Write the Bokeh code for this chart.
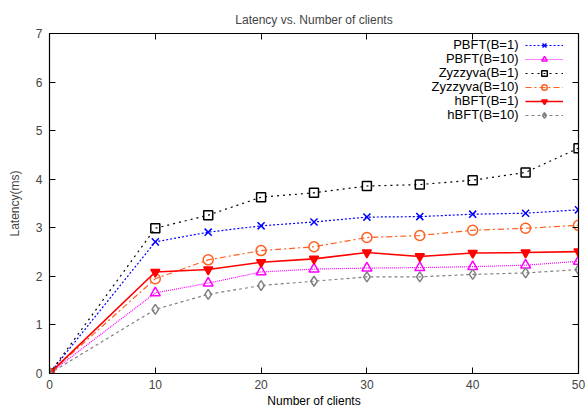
from bokeh.plotting import figure
from bokeh.models import LinearAxis, Legend, LegendItem, Label, FixedTicker, Title
from bokeh.embed import file_html
from bokeh.resources import INLINE

clients = [0, 10, 15, 20, 25, 30, 35, 40, 45, 50]
pbft_b1 = [0, 2.71, 2.91, 3.04, 3.12, 3.22, 3.23, 3.28, 3.30, 3.37]
pbft_b10 = [0, 1.66, 1.86, 2.09, 2.15, 2.17, 2.18, 2.20, 2.23, 2.31]
zyz_b1 = [0, 2.99, 3.26, 3.63, 3.72, 3.86, 3.89, 3.98, 4.14, 4.64]
zyz_b10 = [0, 1.95, 2.34, 2.53, 2.61, 2.80, 2.84, 2.95, 2.99, 3.05]
hbft_b1 = [0, 2.09, 2.14, 2.29, 2.36, 2.49, 2.41, 2.48, 2.49, 2.51]
hbft_b10 = [0, 1.32, 1.63, 1.81, 1.90, 1.99, 1.99, 2.04, 2.07, 2.14]
names = ["PBFT(B=1)", "PBFT(B=10)", "Zyzzyva(B=1)", "Zyzzyva(B=10)", "hBFT(B=1)", "hBFT(B=10)"]
x_ticks = [0, 10, 20, 30, 40, 50]
y_ticks = [0, 1, 2, 3, 4, 5, 6, 7]
x_title = "Number of clients"
y_title = "Latency(ms)"

series = [pbft_b1, pbft_b10, zyz_b1, zyz_b10, hbft_b1, hbft_b10]
colors = ["#0000ff", "#ff00ff", "#000000", "#ff6020", "#ff0000", "#808080"]
dashes = ["2 2", "1 1", "2 4", "6 3 2 3", "solid", "3 3"]
widths = [1.2, 1.2, 1.2, 1.2, 1.6, 1.2]
markers = ["x", "triangle", "square", "circle", "inverted_triangle", "diamond"]
msizes = [10, 10, 9, 10, 9, 10]
fills = [None, None, None, None, "#ff0000", None]

FONT = "Liberation Sans"

p = figure(width=588, height=407, x_range=(0, 50), y_range=(0, 7),
           output_backend="svg", toolbar_location=None,
           title="Latency vs. Number of clients",
           min_border_left=49, min_border_right=10, min_border_top=33, min_border_bottom=33)
p.title.align = "center"
p.title.text_font = FONT
p.title.text_font_style = "normal"
p.title.text_font_size = "12px"
p.title.standoff = 13
p.grid.visible = False
p.outline_line_color = "black"
p.outline_line_width = 1.2

p.xaxis.ticker = FixedTicker(ticks=x_ticks)
p.yaxis.ticker = FixedTicker(ticks=y_ticks)
p.yaxis.axis_label = y_title
for ax in p.xaxis + p.yaxis:
    ax.major_tick_in = 6
    ax.major_tick_out = 0
    ax.minor_tick_line_color = None
    ax.axis_line_color = "black"
    ax.major_label_text_font = FONT
    ax.major_label_text_font_size = "12px"
    ax.axis_label_text_font = FONT
    ax.axis_label_text_font_size = "12px"
    ax.axis_label_text_font_style = "normal"
p.xaxis.major_label_standoff = 6
p.yaxis.major_label_standoff = 7
p.yaxis.axis_label_standoff = 11

for loc, tk in (("right", y_ticks), ("above", x_ticks)):
    ax = LinearAxis(ticker=FixedTicker(ticks=tk), major_tick_in=6, major_tick_out=0,
                    minor_tick_line_color=None, major_label_text_font_size="1px",
                    major_label_text_color=None,
                    major_label_standoff=0, axis_line_color="black")
    p.add_layout(ax, loc)

# x-axis title as a title panel under the x axis
p.add_layout(Title(text=x_title, align="center", text_font=FONT, text_font_size="12px",
                   text_font_style="normal", text_color="black", standoff=0), "below")

items = []
for vals, c, d, w, m, s, f in zip(series, colors, dashes, widths, markers, msizes, fills):
    ln = p.line(clients, vals, line_color=c, line_dash=d, line_width=w)
    sc = p.scatter(clients, vals, marker=m, size=s, line_color=c, fill_color=f, line_width=1.5)
    items.append(LegendItem(label=" ", renderers=[ln, sc]))

legend = Legend(items=items, location="top_right", glyph_width=38, glyph_height=14,
                label_height=14, label_width=0, label_standoff=10, spacing=0, padding=0, margin=5,
                border_line_color=None, background_fill_alpha=0,
                label_text_font_size="1px", label_text_color=None)
p.add_layout(legend, "center")

for i, name in enumerate(names):
    p.add_layout(Label(x=469, y=329 - 14 * i, x_units="screen", y_units="screen",
                       text=name, text_align="right", text_baseline="middle",
                       text_font=FONT, text_font_size="13px", text_color="black"))

open("out.html", "w").write(file_html(p, INLINE))
